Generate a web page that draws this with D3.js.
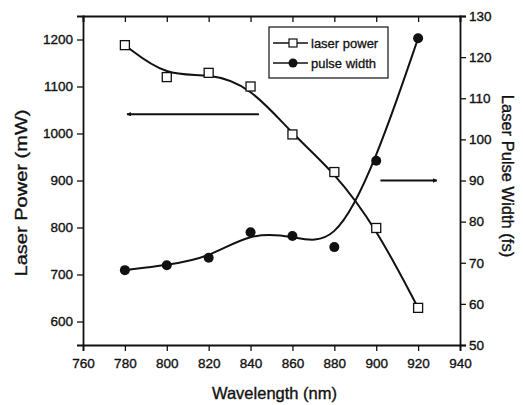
<!DOCTYPE html>
<html>
<head>
<meta charset="utf-8">
<script src="https://cdn.jsdelivr.net/npm/d3@7"></script>
<style>
  html, body { margin: 0; padding: 0; background: #fff; }
  svg { display: block; font-family: "Liberation Sans", Arial, sans-serif; }
  text { fill: #111; }
</style>
</head>
<body>
<svg id="chart" width="523" height="405"></svg>
<script>
// Measurements: output power and pulse width of the laser versus wavelength
const wavelengths = [780, 800, 820, 840, 860, 880, 900, 920];
const laserPower  = [1188, 1120, 1129, 1100, 998, 918, 799, 629];      // mW
const pulseWidth  = [68.2, 69.4, 71.2, 77.4, 76.5, 73.8, 94.8, 124.6]; // fs

const xTicks      = [760, 780, 800, 820, 840, 860, 880, 900, 920, 940];
const powerTicks  = [600, 700, 800, 900, 1000, 1100, 1200];
const widthTicks  = [50, 60, 70, 80, 90, 100, 110, 120, 130];

const seriesNames = ["laser power", "pulse width"];

// Arrows telling which axis each curve belongs to
const powerArrow = { from: 844, to: 781, value: 1041 };  // points left, power axis
const widthArrow = { from: 902, to: 929, value: 90 };    // points right, width axis

const svg = d3.select("#chart");
const plotL = 83, plotR = 460, plotT = 16, plotB = 345;

const x  = d3.scaleLinear().domain([760, 940]).range([plotL, plotR]);
const yP = d3.scaleLinear().domain([550, 1250]).range([plotB, plotT]);
const yW = d3.scaleLinear().domain([50, 130]).range([plotB, plotT]);

const ink = "#111";
const fontTick = 13.5;

// ---- axes ----
function minor(lo, hi, step) { return d3.range(lo, hi + step / 2, step); }

const gB = svg.append("g").attr("transform", `translate(0,${plotB})`);
gB.call(d3.axisBottom(x).tickValues(minor(760, 940, 10)).tickSize(3).tickFormat(""));
gB.call(d3.axisBottom(x).tickValues(xTicks).tickSize(6).tickPadding(7).tickFormat(d3.format("d")));

const gT = svg.append("g").attr("transform", `translate(0,${plotT})`);
gT.call(d3.axisBottom(x).tickValues(minor(760, 940, 10)).tickSize(3).tickFormat(""));
gT.call(d3.axisBottom(x).tickValues(xTicks).tickSize(6).tickFormat(""));

const gL = svg.append("g").attr("transform", `translate(${plotL},0)`);
gL.call(d3.axisLeft(yP).tickValues(minor(550, 1250, 50)).tickSize(3).tickFormat(""));
gL.call(d3.axisLeft(yP).tickValues(powerTicks).tickSize(6).tickPadding(4).tickFormat(d3.format("d")));

const gR = svg.append("g").attr("transform", `translate(${plotR},0)`);
gR.call(d3.axisRight(yW).tickValues(minor(50, 130, 5)).tickSize(3).tickFormat(""));
gR.call(d3.axisRight(yW).tickValues(widthTicks).tickSize(6).tickPadding(3).tickFormat(d3.format("d")));

svg.selectAll(".domain").attr("stroke", ink).attr("stroke-width", 1.8);
svg.selectAll(".tick line").attr("stroke", ink).attr("stroke-width", 1.3);
svg.selectAll(".tick text")
  .attr("font-size", fontTick)
  .attr("font-family", "'Liberation Sans', Arial, sans-serif")
  .attr("fill", ink)
  .attr("stroke", ink).attr("stroke-width", 0.35);

// ---- axis titles ----
svg.append("text")
  .attr("x", (plotL + plotR) / 2 + 3).attr("y", 399)
  .attr("text-anchor", "middle").attr("font-size", 16.5)
  .attr("stroke", ink).attr("stroke-width", 0.35)
  .text("Wavelength (nm)");

svg.append("text")
  .attr("transform", "translate(27,193) rotate(-90)")
  .attr("text-anchor", "middle").attr("font-size", 16.5)
  .attr("textLength", 167).attr("lengthAdjust", "spacingAndGlyphs")
  .attr("stroke", ink).attr("stroke-width", 0.35)
  .text("Laser Power (mW)");

svg.append("text")
  .attr("transform", "translate(502,176) rotate(90)")
  .attr("text-anchor", "middle").attr("font-size", 16.5)
  .attr("stroke", ink).attr("stroke-width", 0.35)
  .text("Laser Pulse Width (fs)");

// ---- curves ----
const powerLine = d3.line().curve(d3.curveBasis)
  .x((d, i) => x(wavelengths[i])).y(d => yP(d));
const widthLine = d3.line().curve(d3.curveBasis)
  .x((d, i) => x(wavelengths[i])).y(d => yW(d));

svg.append("path").attr("d", powerLine(laserPower))
  .attr("fill", "none").attr("stroke", ink).attr("stroke-width", 2);
svg.append("path").attr("d", widthLine(pulseWidth))
  .attr("fill", "none").attr("stroke", ink).attr("stroke-width", 2);

// ---- markers ----
const sq = 9;
svg.append("g").selectAll("rect").data(laserPower).join("rect")
  .attr("x", (d, i) => x(wavelengths[i]) - sq / 2)
  .attr("y", d => yP(d) - sq / 2)
  .attr("width", sq).attr("height", sq)
  .attr("fill", "#fff").attr("stroke", ink).attr("stroke-width", 1.3);

svg.append("g").selectAll("circle").data(pulseWidth).join("circle")
  .attr("cx", (d, i) => x(wavelengths[i]))
  .attr("cy", d => yW(d))
  .attr("r", 5).attr("fill", ink);

// ---- axis arrows (small slim heads) ----
const defs = svg.append("defs");
defs.append("marker").attr("id", "head")
  .attr("viewBox", "0 0 10 10").attr("refX", 9).attr("refY", 5)
  .attr("markerWidth", 4).attr("markerHeight", 2.2).attr("orient", "auto")
  .append("path").attr("d", "M0,0 L10,5 L0,10 Z").attr("fill", ink);

svg.append("line")
  .attr("x1", x(powerArrow.from)).attr("x2", x(powerArrow.to))
  .attr("y1", yP(powerArrow.value)).attr("y2", yP(powerArrow.value))
  .attr("stroke", ink).attr("stroke-width", 2).attr("marker-end", "url(#head)");

svg.append("line")
  .attr("x1", x(widthArrow.from)).attr("x2", x(widthArrow.to))
  .attr("y1", yW(widthArrow.value)).attr("y2", yW(widthArrow.value))
  .attr("stroke", ink).attr("stroke-width", 2).attr("marker-end", "url(#head)");

// ---- legend ----
const lg = svg.append("g").attr("transform", "translate(269,27)");
lg.append("rect").attr("width", 119).attr("height", 51)
  .attr("fill", "#fff").attr("stroke", ink).attr("stroke-width", 1.2);

seriesNames.forEach((name, i) => {
  const row = lg.append("g").attr("transform", `translate(0,${16 + i * 20})`);
  row.append("line").attr("x1", 4).attr("x2", 39)
    .attr("stroke", ink).attr("stroke-width", 1.6);
  if (i === 0) {
    row.append("rect").attr("x", 24 - 4).attr("y", -4).attr("width", 8).attr("height", 8)
      .attr("fill", "#fff").attr("stroke", ink).attr("stroke-width", 1.2);
  } else {
    row.append("circle").attr("cx", 24).attr("r", 4.5).attr("fill", ink);
  }
  row.append("text").attr("x", 42).attr("y", 4.5)
    .attr("font-size", 13).attr("stroke", ink).attr("stroke-width", 0.3)
    .text(name);
});
</script>
</body>
</html>
